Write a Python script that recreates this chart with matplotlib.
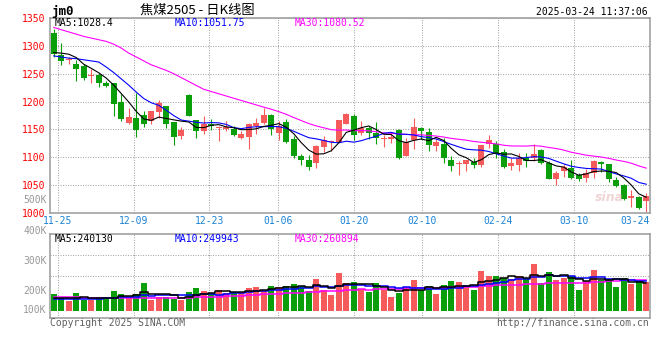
import numpy as np
import pandas as pd
import matplotlib
matplotlib.use('Agg')
import matplotlib.pyplot as plt

# ---- data (jm0, daily K, 11-22 .. 03-24) ----
dates = ['11-25', '12-09', '12-23', '01-06', '01-20', '02-10', '02-24', '03-10', '03-24']
date_idx = [1, 11, 21, 30, 40, 49, 59, 69, 79]

opens = [1322.5, 1283.6, 1274, 1266.9, 1264, 1246, 1247, 1233, 1233, 1200,
         1161, 1170, 1175, 1164.6, 1181, 1191.5, 1163, 1138.3, 1212, 1166.4,
         1147.3, 1160, 1153, 1150, 1150, 1135, 1136, 1156, 1161, 1176,
         1144, 1163, 1132, 1103, 1096, 1090.5, 1118.5, 1127.5, 1127.5, 1160.5,
         1173.6, 1144.3, 1153.3, 1144.3, 1132, 1132.7, 1148.5, 1102.4, 1130.7, 1153.3,
         1145.5, 1120.4, 1124.5, 1094.6, 1088, 1088.7, 1092, 1086.3, 1123.4, 1124.5,
         1109.6, 1085.1, 1086.3, 1098.8, 1098.8, 1112.6, 1089.3, 1060.6, 1075.5, 1080.3,
         1067.8, 1063.6, 1071.3, 1091.7, 1087.5, 1059.4, 1050.4, 1027.7, 1029.5, 1021]
highs = [1329.7, 1305.7, 1280, 1274, 1267, 1258, 1252, 1237, 1234, 1213,
         1188, 1216, 1183, 1183, 1203.5, 1192, 1163, 1154.5, 1213, 1166.4,
         1174, 1168, 1157, 1166, 1156, 1147, 1162, 1170, 1188, 1178,
         1165, 1168, 1138, 1106, 1105, 1121.5, 1137.5, 1130.5, 1166.5, 1180,
         1178.4, 1165, 1155.7, 1164, 1140, 1144.5, 1150.3, 1135.2, 1170, 1154.5,
         1152, 1134, 1134, 1102.4, 1093.5, 1095.3, 1098.2, 1121.6, 1140.2, 1129.3,
         1114.4, 1099.4, 1107.2, 1107.2, 1123.4, 1114.4, 1093.5, 1075.5, 1088.7, 1095.3,
         1072.5, 1078.5, 1095.3, 1093.5, 1088.7, 1065.4, 1051.6, 1041.4, 1030.7, 1035.6]
lows = [1280, 1265.7, 1268, 1237, 1238, 1233, 1226, 1226, 1174, 1165,
        1159, 1136, 1155, 1160, 1170, 1153, 1122, 1133.5, 1174, 1134,
        1141, 1149, 1129, 1148, 1138, 1132, 1114, 1142, 1159, 1140,
        1131, 1126, 1099, 1086, 1078, 1081, 1109.5, 1112, 1127.5, 1159.5,
        1131.7, 1139.5, 1133.5, 1123, 1119, 1126.3, 1096.4, 1102.4, 1114.3, 1132.7,
        1111.5, 1111.5, 1090.5, 1075.5, 1068.3, 1075.5, 1081.5, 1082.7, 1117.4, 1099.4,
        1080.3, 1077.9, 1076.1, 1082.7, 1094, 1087.5, 1060.6, 1050.6, 1065.4, 1060.6,
        1057.6, 1056.4, 1063.6, 1072.7, 1056.4, 1046.8, 1022.9, 1010.3, 1006.7, 1001]
closes = [1284.8, 1272.9, 1276, 1258.5, 1243, 1248, 1233, 1228, 1195, 1168,
          1172, 1149, 1160, 1182.6, 1197, 1160, 1136.5, 1148.5, 1175, 1147.3,
          1159, 1157, 1155, 1154.5, 1140, 1141, 1159, 1161, 1176, 1150,
          1156, 1127.5, 1102, 1096, 1083, 1120, 1130.5, 1129, 1166.5, 1177.5,
          1139.5, 1153.3, 1144.3, 1134, 1135.5, 1137, 1098.2, 1126.9, 1154.5, 1147.3,
          1122.2, 1128.1, 1098.2, 1084.5, 1090, 1095.3, 1086.3, 1121.6, 1130.6, 1105.6,
          1083.3, 1089.3, 1098.8, 1094, 1105.6, 1090.5, 1060.6, 1071.9, 1083.3, 1062.4,
          1060.6, 1072.5, 1093.5, 1087.5, 1060.6, 1048.6, 1024.7, 1030, 1008.5, 1030]
volumes = [143400, 106900, 87200, 154700, 92800, 92800, 115300, 98400, 168700, 143400,
           109700, 143400, 239000, 92800, 120900, 120900, 104000, 90000, 160300, 194000,
           168700, 149000, 177200, 154700, 160300, 149000, 194000, 202500, 177200, 210900,
           199700, 210900, 227800, 210900, 168700, 270000, 177200, 135000, 323400, 239000,
           244600, 182800, 163100, 236200, 177200, 118100, 154700, 194000, 261500, 177200,
           210900, 143400, 219300, 253100, 244600, 210900, 177200, 337400, 295300, 295300,
           278400, 272800, 295300, 267100, 396500, 236200, 329000, 261500, 278400, 295300,
           177200, 253100, 345900, 261500, 270000, 202500, 278400, 227800, 250300, 241800]

# moving-average values before enough visible bars exist
ma5_head = [1288, 1287, 1285, 1279]
ma10_head = [1282, 1280, 1278, 1277, 1275, 1273, 1271, 1262, 1252]
ma30_head = [1333, 1329, 1325, 1321, 1317, 1314, 1311, 1308, 1303, 1296,
             1287, 1280, 1273, 1266, 1261, 1256, 1250, 1243, 1236, 1229,
             1222, 1218, 1214, 1210, 1206, 1202, 1198, 1194, 1190]
vma5_head = [108000, 107000, 106000, 109000]
vma10_head = [99000, 99000, 100000, 101000, 102000, 103000, 105000, 108000, 112000]
vma30_head = [121000, 119000, 117000, 115000, 113000, 111000, 110000, 109000, 108000, 108000,
              108000, 109000, 109000, 109000, 110000, 110000, 111000, 112000, 113000, 115000,
              117000, 119000, 121000, 124000, 127000, 130000, 133000, 136000, 140000]

price_ticks = [1000, 1050, 1100, 1150, 1200, 1250, 1300, 1350]
price_legend = ['MA5:1028.4', 'MA10:1051.75', 'MA30:1080.52']
vol_legend = ['MA5:240130', 'MA10:249943', 'MA30:260894']
vol_labels = ['500K', '400K', '300K', '200K', '100K']

RED = '#f65b5b'
GREEN = '#0a9e0a'
GRID = '#a8a8a8'
FRAME = '#9a9a9a'
DATEC = '#1a82d6'
MONO = 'DejaVu Sans Mono'
W, H = 660, 360


def fx(x):
    return x / W


def fy(y):
    return 1 - y / H


def moving(values, n, head):
    m = pd.Series(values, dtype=float).rolling(n).mean().to_numpy()
    m[:n - 1] = head
    return m


o = np.array(opens)
c = np.array(closes)
x = np.arange(len(closes))
cols = [RED if cc >= oo else GREEN for oo, cc in zip(o, c)]
gx = -0.5 + np.array(date_idx) * 80 / 79

fig = plt.figure(figsize=(6.6, 3.6), dpi=100)
ax = fig.add_axes([fx(50), fy(213), 600 / W, 195 / H])
axv = fig.add_axes([fx(50), fy(318), 600 / W, 84 / H])

for a in (ax, axv):
    a.set_xlim(-0.5, 79.5)
    a.set_axisbelow(True)
    for s in a.spines.values():
        s.set_color(FRAME)
        s.set_linewidth(1.1)
    a.tick_params(length=0)
    a.grid(True, color=GRID, lw=0.75, ls=(0, (1, 1.4)))

# ---- price panel ----
ax.set_ylim(1000, 1350)
ax.set_yticks(price_ticks)
ax.set_yticklabels([str(t) for t in price_ticks], color='red', fontsize=7, family=MONO)
ax.tick_params(axis='y', pad=3)
ax.set_xticks(gx)
ax.set_xticklabels(dates, color=DATEC, fontsize=7, family=MONO)
ax.tick_params(axis='x', pad=2.5)
ax.get_xticklabels()[-1].set_ha('right')

ax.vlines(x, lows, highs, colors=cols, lw=0.8, zorder=2)
ax.bar(x, np.maximum(np.abs(c - o), 1.0), bottom=np.minimum(o, c), width=0.82,
       color=cols, linewidth=0, zorder=3)
ax.plot(x, moving(closes, 30, ma30_head), color='#ff00ff', lw=0.8, zorder=4)
ax.plot(x, moving(closes, 10, ma10_head), color='#0000ff', lw=0.8, zorder=4)
ax.plot(x, moving(closes, 5, ma5_head), color='black', lw=0.8, zorder=4)

for txt, px, col in zip(price_legend, [55, 175, 295], ['black', '#0000ff', '#ff00ff']):
    fig.text(fx(px), fy(23.5), txt, color=col, fontsize=7, family=MONO, va='center')

fig.text(fx(595), fy(197), 'sina', color='#e0a0a0', alpha=0.45, fontsize=9,
         fontweight='bold', style='italic', va='center')

# ---- volume panel ----
vmin, vmax = -59000, 649500
axv.set_ylim(vmin, vmax)
axv.set_yticks([vmin + f * (vmax - vmin) for f in (0.25, 0.5, 0.75)])
axv.set_yticklabels([])
axv.set_xticks(gx)
axv.set_xticklabels([])

axv.bar(x, volumes, width=0.8, color=cols, linewidth=0, zorder=2)
axv.plot(x, moving(volumes, 30, vma30_head), color='#ff00ff', lw=1.1,
         drawstyle='steps-mid', zorder=3)
axv.plot(x, moving(volumes, 10, vma10_head), color='#0000ff', lw=1.1,
         drawstyle='steps-mid', zorder=3)
axv.plot(x, moving(volumes, 5, vma5_head), color='black', lw=1.1,
         drawstyle='steps-mid', zorder=3)

for txt, px, col in zip(vol_legend, [55, 175, 295], ['black', '#0000ff', '#ff00ff']):
    fig.text(fx(px), fy(238.5), txt, color=col, fontsize=7, family=MONO, va='center')

for txt, py in zip(vol_labels, [200, 231, 261, 291, 310]):
    fig.text(fx(46.5), fy(py), txt, color='#999999', fontsize=7, family=MONO,
             ha='right', va='center')

# ---- header / footer ----
fig.text(fx(51), fy(11.5), 'jm0', fontsize=9, fontweight='bold', family=MONO, va='center')
fig.text(fx(140), fy(10), '焦煤2505 - 日K线图', fontsize=9.5,
         family=['Noto Sans CJK SC', 'DejaVu Sans'], va='center')
fig.text(fx(648), fy(12), '2025-03-24 11:37:06', fontsize=7, family=MONO,
         ha='right', va='center')
fig.text(fx(50), fy(323.5), 'Copyright 2025 SINA.COM', color='#606060', fontsize=7,
         family=MONO, va='center')
fig.text(fx(649), fy(323.5), 'http://finance.sina.com.cn', color='#606060', fontsize=7,
         family=MONO, ha='right', va='center')

fig.savefig('out.png', dpi=100, facecolor='white')
